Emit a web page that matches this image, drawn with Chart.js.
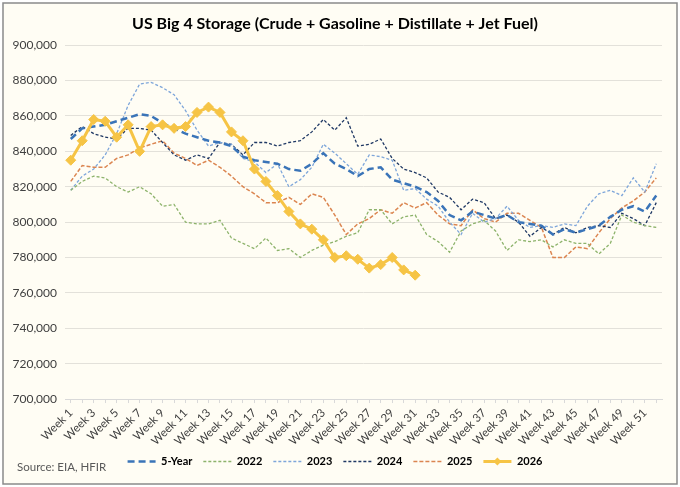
<!DOCTYPE html>
<html>
<head>
<meta charset="utf-8">
<script src="https://cdn.jsdelivr.net/npm/chart.js@4.4.1/dist/chart.umd.min.js"></script>
<style>
  html, body { margin: 0; padding: 0; background: #ffffff; }
  #wrap { width: 680px; height: 487px; }
</style>
</head>
<body>
<div id="wrap"><canvas id="chart"></canvas></div>
<script>
// weekly storage, barrels (thousands)
var weeks = [];
for (var w = 1; w <= 52; w++) { weeks.push('Week ' + w); }

var five_year = [847, 853, 854, 855, 857, 859, 861, 860, 856, 853, 850, 848, 846, 845, 843, 837, 835, 834, 833, 830,
  829, 833, 839, 833, 830, 826, 830, 831, 824, 822, 820, 817, 812, 804, 801, 806, 804, 802, 804, 800,
  799, 798, 793, 796, 794, 796, 798, 803, 807, 809, 806, 815];
var y2022 = [818, 823, 826, 825, 820, 817, 820, 816, 809, 810, 800, 799, 799, 801, 791, 788, 785, 791, 784, 785,
  780, 784, 787, 789, 792, 794, 807, 807, 799, 803, 804, 793, 789, 783, 795, 799, 801, 795, 784, 790,
  789, 790, 786, 790, 788, 788, 782, 788, 804, 800, 798, 797];
var y2023 = [818, 826, 830, 838, 850, 866, 878, 879, 876, 872, 863, 852, 843, 845, 844, 836, 834, 828, 833, 820,
  824, 831, 844, 839, 833, 827, 838, 837, 835, 818, 819, 813, 809, 800, 793, 805, 800, 802, 809, 801,
  797, 798, 797, 799, 798, 809, 816, 818, 815, 825, 817, 833];
var y2024 = [849, 854, 850, 848, 847, 853, 853, 852, 845, 838, 835, 838, 836, 845, 844, 838, 845, 845, 843, 845,
  846, 851, 858, 852, 859, 843, 844, 847, 836, 830, 828, 825, 817, 814, 807, 813, 811, 802, 804, 800,
  792, 797, 793, 797, 794, 797, 798, 797, 805, 802, 798, 811];
var y2025 = [823, 832, 831, 831, 836, 838, 842, 844, 846, 839, 836, 832, 835, 831, 826, 820, 816, 811, 811, 814,
  810, 816, 814, 804, 793, 799, 802, 807, 805, 811, 808, 811, 804, 799, 798, 807, 802, 800, 805, 805,
  801, 797, 780, 780, 786, 785, 794, 802, 808, 812, 817, 825];
var y2026 = [835, 846, 858, 857, 848, 855, 840, 854, 855, 853, 854, 862, 865, 862, 851, 846, 830, 823, 815, 806,
  799, 796, 790, 780, 781, 779, 774, 776, 780, 773, 770];

function toBarrels(arr){
    return arr.map(function(v){ return v * 1000; });
}

var font_family = "Lato, 'Noto Sans', sans-serif";
var gold = '#F6C445';

var framePlugin = {
    id: 'frame',
    beforeDraw: function(chart){
        var ctx = chart.ctx;
        ctx.save();
        ctx.fillStyle = '#ffffff';
        ctx.fillRect(0, 0, chart.width, chart.height);
        ctx.fillStyle = '#FFFDF4';
        ctx.fillRect(3, 3, chart.width - 6, chart.height - 6);
        ctx.strokeStyle = '#8a8a8a';
        ctx.lineWidth = 1.5;
        ctx.strokeRect(3, 3, chart.width - 6, chart.height - 6);
        ctx.restore();
    },
    afterDraw: function(chart){
        var ctx = chart.ctx;
        ctx.save();
        // source note
        ctx.font = '11.5px ' + font_family;
        ctx.fillStyle = '#595959';
        ctx.textBaseline = 'middle';
        ctx.fillText('Source: EIA, HFIR', 17, 467);
        // diamond on the 2026 legend line
        var boxes = chart.legend.legendHitBoxes;
        if (boxes && boxes[5]) {
            var b = boxes[5];
            var cx = b.left + 14;
            var cy = b.top + b.height / 2;
            ctx.fillStyle = gold;
            ctx.beginPath();
            ctx.moveTo(cx, cy - 4);
            ctx.lineTo(cx + 4, cy);
            ctx.lineTo(cx, cy + 4);
            ctx.lineTo(cx - 4, cy);
            ctx.closePath();
            ctx.fill();
        }
        ctx.restore();
    }
};

const data = {
    labels: weeks,
    datasets: [{
        label: '5-Year',
        data: toBarrels(five_year),
        borderColor: '#3A74B8',
        borderWidth: 2.5,
        borderDash: [7, 4],
        pointRadius: 0,
        order: 1
    },{
        label: '2022',
        data: toBarrels(y2022),
        borderColor: '#8DB36B',
        borderWidth: 1.3,
        borderDash: [3, 2],
        pointRadius: 0,
        order: 2
    },{
        label: '2023',
        data: toBarrels(y2023),
        borderColor: '#7EA6DA',
        borderWidth: 1.3,
        borderDash: [3, 2],
        pointRadius: 0,
        order: 3
    },{
        label: '2024',
        data: toBarrels(y2024),
        borderColor: '#1F3864',
        borderWidth: 1.3,
        borderDash: [3, 2],
        pointRadius: 0,
        order: 4
    },{
        label: '2025',
        data: toBarrels(y2025),
        borderColor: '#DB8550',
        borderWidth: 1.5,
        borderDash: [4, 2],
        pointRadius: 0,
        order: 5
    },{
        label: '2026',
        data: toBarrels(y2026),
        borderColor: gold,
        backgroundColor: gold,
        borderWidth: 3,
        pointStyle: 'rectRot',
        pointRadius: 5,
        pointBorderWidth: 1,
        order: 0
    }]
};

const config = {
    type: 'line',
    data,
    options: {
        responsive: true,
        maintainAspectRatio: false,
        animation: false,
        layout: {
            padding: { left: 8, right: 18, top: 5, bottom: 10 }
        },
        elements: {
            line: { tension: 0, fill: false }
        },
        plugins: {
            title: {
                display: true,
                text: 'US Big 4 Storage (Crude + Gasoline + Distillate + Jet Fuel)',
                color: '#000000',
                font: { family: font_family, size: 16, weight: 'bold' },
                padding: { top: 9, bottom: 12 }
            },
            legend: {
                position: 'bottom',
                labels: {
                    usePointStyle: true,
                    pointStyle: 'line',
                    pointStyleWidth: 28,
                    color: '#000000',
                    padding: 11,
                    font: { family: font_family, size: 11, weight: 'bold' },
                    generateLabels: function(chart){
                        var items = Chart.defaults.plugins.legend.labels.generateLabels(chart);
                        items.forEach(function(it){
                            var ds = chart.data.datasets[it.datasetIndex];
                            it.lineDash = ds.borderDash || [];
                            it.lineWidth = ds.borderWidth;
                            it.strokeStyle = ds.borderColor;
                            it.pointStyle = 'line';
                        });
                        return items;
                    },
                    sort: function(a, b){ return a.datasetIndex - b.datasetIndex; }
                }
            },
            tooltip: { enabled: false }
        },
        scales: {
            x: {
                offset: true,
                afterFit: function(scale){ scale.height -= 6; },
                grid: {
                    drawOnChartArea: false,
                    drawTicks: true,
                    tickLength: 4,
                    color: '#D9D9D9'
                },
                border: { color: '#D9D9D9' },
                ticks: {
                    autoSkip: false,
                    maxRotation: 45,
                    minRotation: 45,
                    color: '#404040',
                    font: { family: font_family, size: 11.5 },
                    callback: function(val, i){
                        return i % 2 === 0 ? weeks[i] : '';
                    }
                }
            },
            y: {
                min: 700000,
                max: 900000,
                afterFit: function(scale){ scale.width = 57; },
                grid: { color: '#E3E1DA', drawTicks: false },
                border: { display: false },
                ticks: {
                    stepSize: 20000,
                    padding: 8,
                    color: '#404040',
                    font: { family: font_family, size: 12 },
                    callback: function(v){ return v.toLocaleString('en-US'); }
                }
            }
        }
    },
    plugins: [framePlugin]
};

const ctx = document.getElementById('chart').getContext('2d');
const myChart = new Chart(ctx, config);
</script>
</body>
</html>
